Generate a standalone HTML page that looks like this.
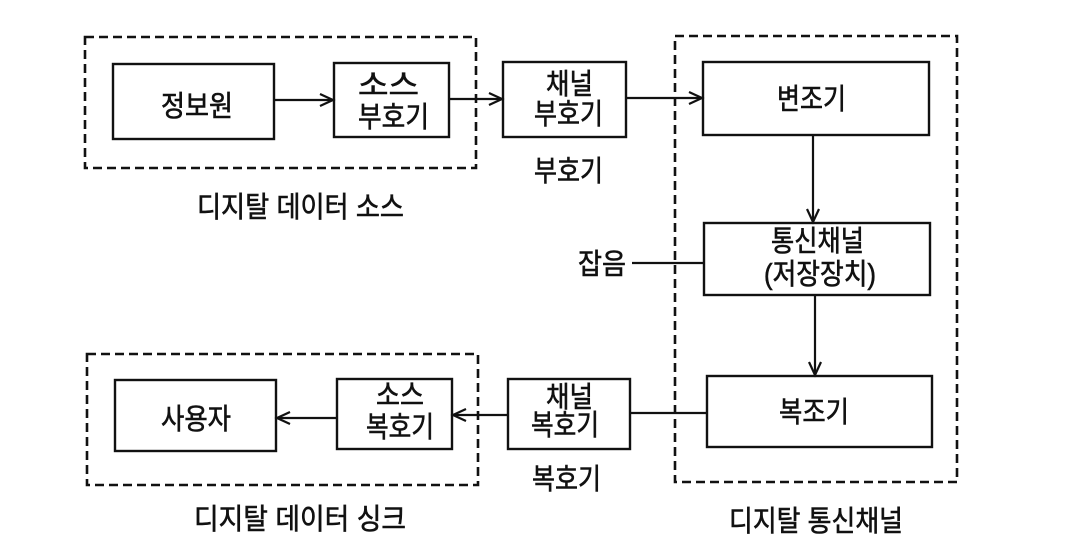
<!DOCTYPE html>
<html><head><meta charset="utf-8"><style>
html,body{margin:0;padding:0;background:#fff;}
svg{display:block;}
text{font-family:"Liberation Sans","Noto Sans CJK KR","NanumGothic",sans-serif;font-size:29px;fill:#111;stroke:#111;stroke-width:0.6px;dominant-baseline:central;}
</style></head><body>
<svg width="1068" height="536" viewBox="0 0 1068 536" xmlns="http://www.w3.org/2000/svg">
<rect width="1068" height="536" fill="#fff"/>
<g fill="none" stroke="#111" stroke-width="2.6" stroke-dasharray="9,5">
<rect x="85" y="37" width="391" height="131"/>
<rect x="675" y="36" width="282" height="446"/>
<rect x="87" y="354" width="391" height="131"/>
</g>
<g fill="none" stroke="#111" stroke-width="2.4">
<rect x="113" y="64" width="161" height="75"/>
<rect x="334" y="63" width="115" height="74"/>
<rect x="503" y="62" width="123" height="75"/>
<rect x="703" y="62" width="226" height="73"/>
<rect x="704" y="223" width="226" height="72"/>
<rect x="707" y="376" width="225" height="71"/>
<rect x="115" y="380" width="161" height="71"/>
<rect x="337" y="379" width="115" height="70"/>
<rect x="508" y="379" width="122" height="70"/>
</g>
<g fill="none" stroke="#111" stroke-width="2.2">
<line x1="274" y1="100" x2="333" y2="100"/><polyline points="320,94 333,100 320,106"/>
<line x1="449" y1="99" x2="502" y2="99"/><polyline points="489,93 502,99 489,105"/>
<line x1="626" y1="98" x2="702" y2="98"/><polyline points="689,92 702,98 689,104"/>
<line x1="813" y1="135" x2="813" y2="222"/><polyline points="807,209 813,222 819,209"/>
<line x1="815" y1="295" x2="815" y2="375"/><polyline points="809,362 815,375 821,362"/>
<line x1="632" y1="263" x2="704" y2="263"/>
<line x1="630" y1="413" x2="707" y2="413"/>
<line x1="508" y1="415" x2="453" y2="415"/><polyline points="466,409 453,415 466,421"/>
<line x1="337" y1="418" x2="277" y2="418"/><polyline points="290,412 277,418 290,424"/>
</g>
<g>
<text x="161" y="107" textLength="72" lengthAdjust="spacingAndGlyphs">정보원</text>
<text x="358" y="86" textLength="61" lengthAdjust="spacingAndGlyphs">소스</text>
<text x="358" y="118" textLength="71" lengthAdjust="spacingAndGlyphs">부호기</text>
<text x="197" y="208" textLength="207" lengthAdjust="spacingAndGlyphs">디지탈 데이터 소스</text>
<text x="546" y="85" textLength="47" lengthAdjust="spacingAndGlyphs">채널</text>
<text x="534" y="115" textLength="69" lengthAdjust="spacingAndGlyphs">부호기</text>
<text x="534" y="172" textLength="69" lengthAdjust="spacingAndGlyphs">부호기</text>
<text x="777" y="100" textLength="69" lengthAdjust="spacingAndGlyphs">변조기</text>
<text x="771" y="242" textLength="93" lengthAdjust="spacingAndGlyphs">통신채널</text>
<text x="764" y="275" textLength="112" lengthAdjust="spacingAndGlyphs">(저장장치)</text>
<text x="578" y="265" textLength="48" lengthAdjust="spacingAndGlyphs">잡음</text>
<text x="779" y="413" textLength="70" lengthAdjust="spacingAndGlyphs">복조기</text>
<text x="729" y="522" textLength="174" lengthAdjust="spacingAndGlyphs">디지탈 통신채널</text>
<text x="161" y="420" textLength="70" lengthAdjust="spacingAndGlyphs">사용자</text>
<text x="376" y="396" textLength="48" lengthAdjust="spacingAndGlyphs">소스</text>
<text x="366" y="428" textLength="68" lengthAdjust="spacingAndGlyphs">복호기</text>
<text x="546" y="398" textLength="47" lengthAdjust="spacingAndGlyphs">채널</text>
<text x="531" y="426" textLength="68" lengthAdjust="spacingAndGlyphs">복호기</text>
<text x="532" y="480" textLength="69" lengthAdjust="spacingAndGlyphs">복호기</text>
<text x="194" y="520" textLength="212" lengthAdjust="spacingAndGlyphs">디지탈 데이터 싱크</text>
</g>
</svg>
</body></html>
